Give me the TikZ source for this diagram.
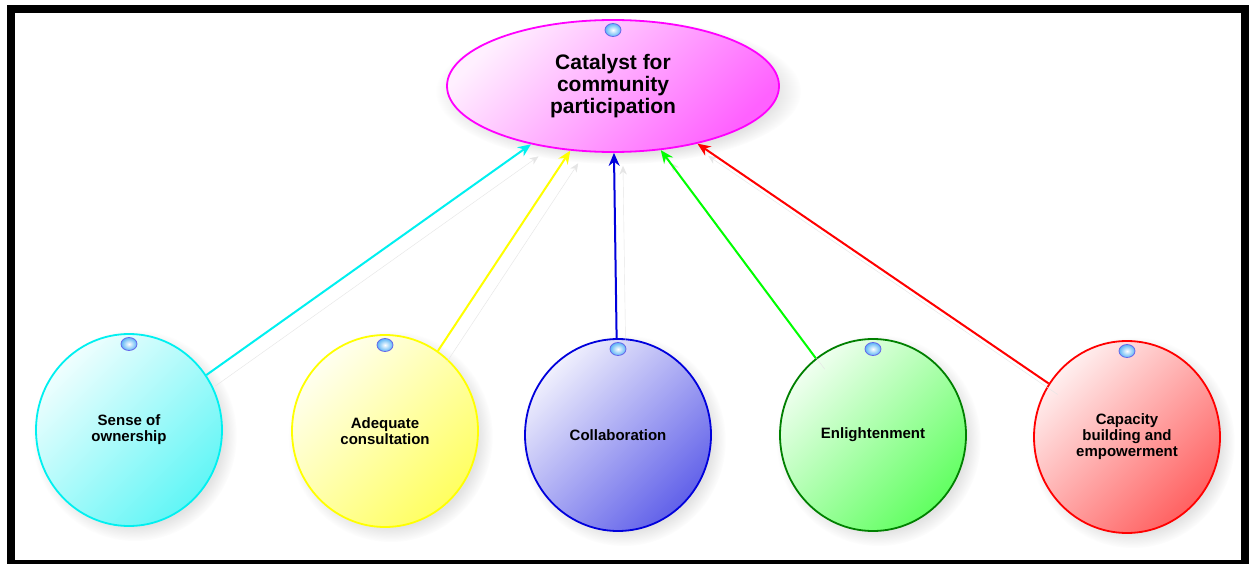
\documentclass[tikz,border=0pt]{standalone}
\usepackage{fontspec}
\setmainfont{Liberation Sans}
\usepackage{xcolor}
\usetikzlibrary{arrows,arrows.meta,shapes,shadows,positioning}

\definecolor{aqua}{RGB}{0,240,240}
\definecolor{pink}{RGB}{255,0,255}
\definecolor{lemon}{RGB}{255,255,0}
\definecolor{royal}{RGB}{0,0,220}
\definecolor{lime}{RGB}{0,255,0}
\definecolor{leaf}{RGB}{0,128,0}
\definecolor{scarlet}{RGB}{255,0,0}
\definecolor{sky}{RGB}{90,180,245}

\tikzset{
	bubble/.style={ellipse,draw,line width=1.8pt,inner sep=0pt,
		minimum width=186,minimum height=192,align=center,
		font=\fontsize{15}{16}\selectfont\bfseries,
		circular drop shadow={shadow xshift=5pt,shadow yshift=-5pt,opacity=0.22}},
	tint/.style={top color=#1!6,bottom color=#1!62,shading angle=45},
	knob/.style={ellipse,inner sep=0pt,minimum width=16pt,minimum height=13pt,
		inner color=white,outer color=sky,draw=royal!60,line width=0.8pt},
	pull/.style={->,line width=2pt,>={Stealth[length=13pt,width=11pt]},
		preaction={draw=black!10,transform canvas={xshift=9pt,yshift=-11pt}}}
}

\begin{document}
\begin{tikzpicture}[x=1pt,y=-1pt]
		\useasboundingbox (0,0) rectangle (1249,564);
		\fill[white] (0,0) rectangle (1249,564);
		\draw[line width=8pt] (11,9) rectangle (1245,564);

		\node (C) at (613,86) [ellipse,draw=pink,line width=1.8pt,inner sep=0pt,
			minimum width=332,minimum height=132,align=center,tint=pink,
			circular drop shadow={shadow xshift=5pt,shadow yshift=-5pt,opacity=0.22},
			font=\fontsize{21}{22}\selectfont\bfseries]
			{Catalyst for\\community\\participation};

		\node (S) at (129,430) [bubble,draw=aqua,tint=aqua]
			{Sense of\\ownership};
		\node (A) at (385,431) [bubble,draw=lemon,tint=lemon]
			{Adequate\\consultation};
		\node (Co) at (618,435) [bubble,draw=royal,tint=royal]
			{Collaboration};
		\node (E) at (873,435) [bubble,draw=leaf,tint=lime]
			{Enlightenment};
		\node (Cb) at (1127,437) [bubble,draw=scarlet,tint=scarlet]
			{Capacity\\building and\\empowerment};
		%
		\path
			(S) edge[pull,aqua] (C)
			(A) edge[pull,lemon] (C)
			(Co) edge[pull,royal] (C)
			(E) edge[pull,lime] (C)
			(Cb) edge[pull,scarlet] (C);

		\node[knob,below=4pt of C.north] (kC) {};
		\node[knob,below=4pt of S.north] (kS) {};
		\node[knob,below=4pt of A.north] (kA) {};
		\node[knob,below=4pt of Co.north] (kCo) {};
		\node[knob,below=4pt of E.north] (kE) {};
		\node[knob,below=4pt of Cb.north] (kCb) {};
	\end{tikzpicture}
\end{document}
